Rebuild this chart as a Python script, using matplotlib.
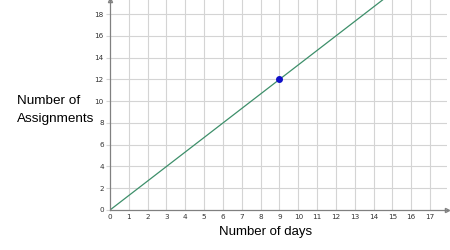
import matplotlib
matplotlib.use("Agg")
import matplotlib.pyplot as plt
import numpy as np

# data
days_line = [0, 9, 14.5]
assign_line = [0, 12, 19.333]
point_day = [9]
point_assign = [12]
x_ticks = list(range(0, 18))
y_ticks = list(range(0, 20, 2))

plt.rcParams["font.family"] = ["Liberation Sans", "DejaVu Sans"]

fig = plt.figure(figsize=(4.5, 2.5), dpi=100)
ax = fig.add_axes([110 / 450, 40 / 250, 337 / 450, 210 / 250])
ax.set_xlim(0, 17.9)
ax.set_ylim(0, 19.3)

# grid: vertical every 1, horizontal every 2
for xv in range(1, 18):
    ax.axvline(xv, color="#d4d4d4", lw=0.8, zorder=0)
for yv in range(2, 20, 2):
    ax.axhline(yv, color="#d4d4d4", lw=0.8, zorder=0)

ax.plot(days_line, assign_line, color="#3d8f6a", lw=0.9, zorder=2)
ax.plot(point_day, point_assign, "o", color="#1010c8", ms=4, zorder=3)

for side in ["top", "right"]:
    ax.spines[side].set_visible(False)
for side in ["left", "bottom"]:
    ax.spines[side].set_color("#808080")
    ax.spines[side].set_linewidth(0.9)

# arrow heads on axes
ax.plot(1, 0, ">", transform=ax.transAxes, color="#808080", ms=3, clip_on=False, mfc="none")
ax.plot(0, 1, "^", transform=ax.transAxes, color="#808080", ms=3, clip_on=False, mfc="none")

ax.set_xticks(x_ticks)
ax.set_yticks(y_ticks)
ax.tick_params(axis="x", length=0, labelsize=5.2, colors="#333333", pad=3)
ax.tick_params(axis="y", length=3, width=0.8, color="#d4d4d4", labelcolor="#333333",
               labelsize=5.2, pad=1.5)
for lbl in ax.get_xticklabels() + ax.get_yticklabels():
    lbl.set_family("DejaVu Sans")

fig.text(266 / 450, 1 - 232 / 250, "Number of days", ha="center", va="center", fontsize=9.5)
# y label as two separate lines
fig.text(17 / 450, 1 - 101 / 250, "Number of", ha="left", va="center", fontsize=9.7)
fig.text(17 / 450, 1 - 119 / 250, "Assignments", ha="left", va="center", fontsize=9.7)

fig.savefig("out.png", dpi=100)
